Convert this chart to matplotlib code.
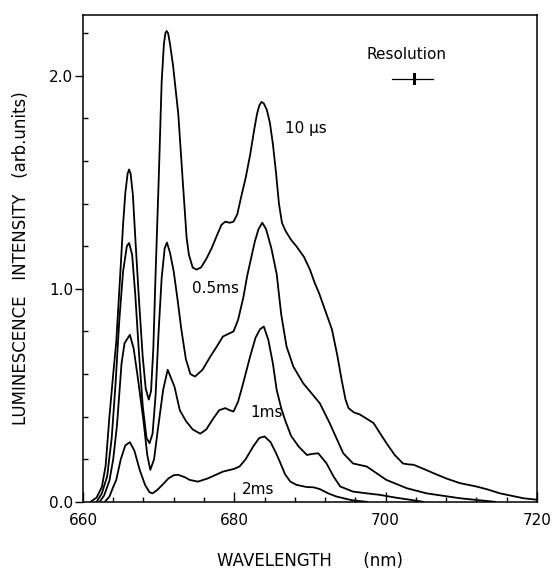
"""Time-resolved luminescence spectra at several delays after excitation."""

import matplotlib
matplotlib.use("Agg")
import matplotlib.pyplot as plt
from matplotlib.ticker import MultipleLocator


# 10 us delay
wl_10us = [661.0, 661.8, 662.5, 663.0, 663.5, 664.0, 664.4, 664.9, 665.3, 665.6,
           665.9, 666.1, 666.3, 666.6, 666.9, 667.4, 667.9, 668.3, 668.7, 669.0,
           669.3, 669.6, 670.0, 670.4, 670.7, 670.9, 671.05, 671.25, 671.5, 671.9,
           672.6, 673.2, 673.7, 674.0, 674.5, 675.0, 675.6, 676.3, 677.0, 677.7,
           678.3, 678.8, 679.4, 679.9, 680.4, 680.9, 681.5, 682.1, 682.6, 683.0,
           683.3, 683.6, 683.9, 684.3, 684.7, 685.1, 685.5, 685.9, 686.3, 686.8,
           687.5, 688.2, 689.2, 690.0, 690.6, 691.2, 692.0, 692.9, 693.6, 694.2,
           694.7, 695.1, 695.8, 696.6, 697.5, 698.4, 699.3, 700.1, 701.2, 702.3,
           703.0, 703.7, 705.0, 706.3, 708.0, 709.8, 712.0, 713.5, 715.1, 718.2,
           720.0]
int_10us = [0.0, 0.02, 0.07, 0.17, 0.40, 0.60, 0.75, 1.05, 1.30, 1.45,
            1.54, 1.56, 1.54, 1.44, 1.25, 0.95, 0.68, 0.53, 0.48, 0.52,
            0.72, 1.07, 1.50, 1.97, 2.15, 2.20, 2.21, 2.20, 2.15, 2.05,
            1.82, 1.50, 1.24, 1.16, 1.10, 1.09, 1.10, 1.14, 1.19, 1.25,
            1.30, 1.315, 1.31, 1.315, 1.35, 1.43, 1.52, 1.63, 1.74, 1.82,
            1.86, 1.877, 1.87, 1.84, 1.78, 1.68, 1.55, 1.40, 1.31, 1.27,
            1.23, 1.20, 1.15, 1.09, 1.03, 0.98, 0.90, 0.81, 0.69, 0.57,
            0.48, 0.44, 0.42, 0.41, 0.39, 0.37, 0.32, 0.276, 0.22, 0.18,
            0.176, 0.174, 0.155, 0.135, 0.11, 0.088, 0.072, 0.058, 0.04, 0.017,
            0.01]

# 0.5 ms delay
wl_05ms = [661.8, 662.5, 663.2, 663.8, 664.3, 664.8, 665.3, 665.8, 666.1, 666.5,
           666.9, 667.4, 667.9, 668.4, 668.8, 669.2, 669.6, 670.0, 670.4, 670.8,
           671.1, 671.5, 672.0, 672.5, 673.0, 673.6, 674.2, 674.8, 675.8, 676.8,
           677.7, 678.5, 679.9, 680.5, 681.2, 681.7, 682.2, 682.7, 683.2, 683.7,
           684.2, 684.9, 685.6, 686.2, 686.9, 687.8, 689.1, 690.2, 691.3, 692.6,
           694.4, 695.7, 697.5, 700.1, 702.8, 705.4, 709.8, 714.5]
int_05ms = [0.0, 0.04, 0.12, 0.30, 0.55, 0.85, 1.08, 1.20, 1.215, 1.16,
            0.98, 0.70, 0.45, 0.30, 0.275, 0.32, 0.50, 0.80, 1.05, 1.19,
            1.217, 1.17, 1.08, 0.95, 0.81, 0.67, 0.60, 0.588, 0.62, 0.68,
            0.73, 0.776, 0.80, 0.854, 0.96, 1.06, 1.14, 1.22, 1.28, 1.31,
            1.28, 1.19, 1.07, 0.88, 0.73, 0.635, 0.557, 0.51, 0.463, 0.37,
            0.228, 0.18, 0.166, 0.103, 0.064, 0.04, 0.017, 0.0]

# 1 ms delay
wl_1ms = [662.2, 662.8, 663.5, 664.0, 664.5, 665.1, 665.5, 666.2, 666.7, 667.3,
          668.0, 668.5, 668.9, 669.4, 669.9, 670.6, 671.2, 672.1, 672.8, 673.6,
          674.5, 675.5, 676.3, 677.2, 678.0, 678.8, 679.4, 679.9, 680.5, 681.2,
          682.0, 682.8, 683.4, 683.9, 684.5, 685.1, 685.6, 686.2, 686.7, 687.5,
          688.5, 689.6, 690.3, 691.1, 692.2, 693.1, 694.0, 695.7, 697.5, 699.2,
          701.3, 703.2, 705.0]
int_1ms = [0.0, 0.03, 0.10, 0.20, 0.36, 0.65, 0.745, 0.784, 0.72, 0.57,
           0.38, 0.22, 0.15, 0.20, 0.34, 0.526, 0.62, 0.54, 0.43, 0.38,
           0.34, 0.32, 0.34, 0.39, 0.43, 0.44, 0.43, 0.424, 0.47, 0.56,
           0.67, 0.77, 0.81, 0.823, 0.76, 0.65, 0.526, 0.44, 0.385, 0.31,
           0.26, 0.22, 0.225, 0.228, 0.18, 0.12, 0.072, 0.048, 0.04, 0.033,
           0.02, 0.01, 0.0]

# 2 ms delay
wl_2ms = [662.9, 663.5, 664.0, 664.4, 665.0, 665.6, 666.2, 666.8, 667.5, 668.2,
          668.8, 669.2, 669.8, 670.5, 671.3, 672.0, 672.6, 673.5, 674.1, 675.2,
          676.5, 678.5, 680.0, 680.7, 681.5, 682.5, 683.3, 684.0, 684.8, 685.5,
          686.0, 686.7, 687.4, 688.2, 689.5, 690.5, 691.3, 692.4, 693.5, 695.5,
          697.5]
int_2ms = [0.0, 0.025, 0.07, 0.103, 0.20, 0.265, 0.28, 0.24, 0.15, 0.08,
           0.045, 0.04, 0.055, 0.08, 0.11, 0.125, 0.127, 0.115, 0.103, 0.095,
           0.11, 0.142, 0.155, 0.166, 0.20, 0.26, 0.30, 0.307, 0.28, 0.23,
           0.19, 0.13, 0.095, 0.08, 0.07, 0.068, 0.06, 0.04, 0.025, 0.008,
           0.0]

# curve labels: text, x, y (data units)
labels = [("10 μs", 686.7, 1.75), ("0.5ms", 674.4, 1.0),
          ("1ms", 682.1, 0.42), ("2ms", 681.0, 0.056)]

# spectral resolution marker
res_x = [700.8, 706.2]
res_center = 703.7
res_y = 1.986


def main() -> None:
    plt.rcParams["font.family"] = "DejaVu Sans"
    fig = plt.figure(figsize=(5.53, 5.69), dpi=100)
    ax = fig.add_axes([0.150, 0.118, 0.821, 0.856])

    for wl, inten in [(wl_10us, int_10us), (wl_05ms, int_05ms),
                      (wl_1ms, int_1ms), (wl_2ms, int_2ms)]:
        ax.plot(wl, inten, color="black", lw=1.3, solid_joinstyle="round")

    for text, x, y in labels:
        ax.text(x, y, text, fontsize=11, ha="left", va="center")

    ax.plot(res_x, [res_y, res_y], color="black", lw=0.9)
    ax.plot([res_center, res_center], [res_y - 0.02, res_y + 0.02], color="black", lw=2.2)
    ax.text(sum(res_x) / 2 - 0.8, 2.10, "Resolution", fontsize=11, ha="center", va="center")

    ax.set_xlim(660, 720)
    ax.set_ylim(0, 2.286)
    ax.set_xticks([660, 680, 700, 720])
    ax.set_yticks([0.0, 1.0, 2.0])
    ax.set_yticklabels(["0.0", "1.0", "2.0"])
    ax.xaxis.set_minor_locator(MultipleLocator(4))
    ax.yaxis.set_minor_locator(MultipleLocator(0.2))
    ax.tick_params(axis="x", which="major", direction="in", length=7, width=1,
                   labelsize=11, pad=8)
    ax.tick_params(axis="x", which="minor", direction="in", length=3.5, width=1)
    ax.tick_params(axis="y", which="major", direction="out", length=6, width=1,
                   labelsize=11, pad=1)
    ax.tick_params(axis="y", which="minor", direction="in", length=3.5, width=1)
    for spine in ax.spines.values():
        spine.set_linewidth(1.1)

    ax.set_xlabel("WAVELENGTH      (nm)", fontsize=12, labelpad=17)
    ax.set_ylabel("LUMINESCENCE   INTENSITY   (arb.units)", fontsize=12, labelpad=14)

    fig.savefig("out.png", dpi=100)
    plt.close(fig)


if __name__ == "__main__":
    main()
